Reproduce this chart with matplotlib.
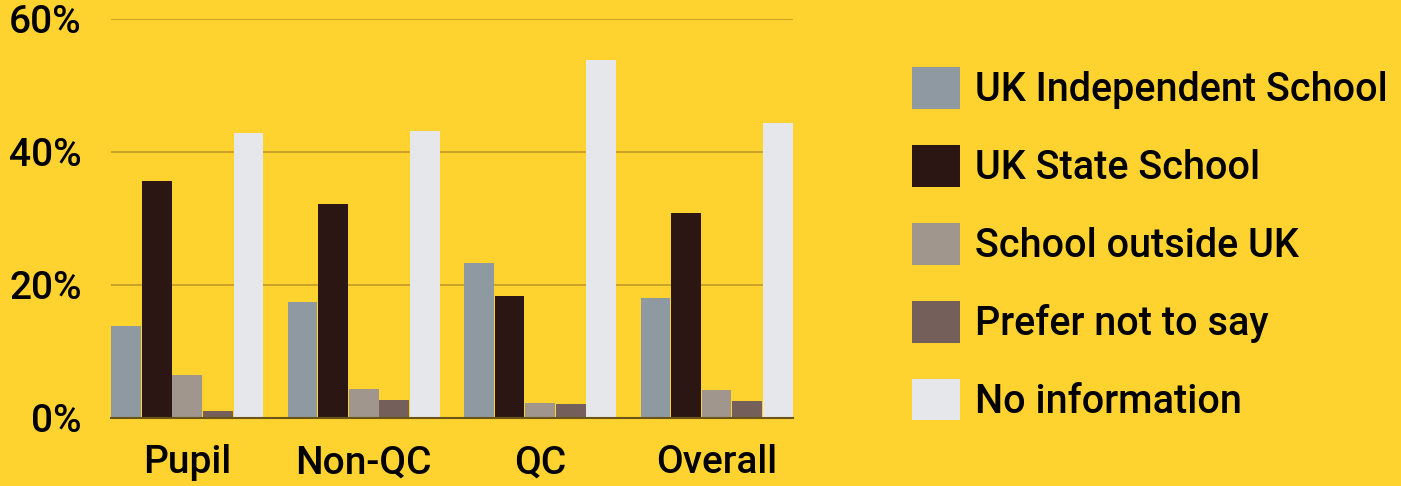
#!/usr/bin/env python3
"""School background by group, grouped bar chart."""

import numpy as np
import matplotlib
matplotlib.use('Agg')
import matplotlib.pyplot as plt
from matplotlib.ticker import FuncFormatter

groups = ['Pupil', 'Non-QC', 'QC', 'Overall']
series = ['UK Independent School', 'UK State School', 'School outside UK',
          'Prefer not to say', 'No information']
uk_independent = [13.8, 17.5, 23.3, 18.1]
uk_state = [35.6, 32.1, 18.4, 30.8]
outside_uk = [6.5, 4.4, 2.2, 4.2]
prefer_not = [1.1, 2.7, 2.1, 2.6]
no_info = [42.8, 43.2, 53.9, 44.3]

colors = ['#8f99a1', '#2c1613', '#a0968e', '#745f5a', '#e6e7ea']
bg = '#fed330'

plt.rcParams['font.family'] = ['Roboto', 'DejaVu Sans']
plt.rcParams['font.weight'] = 500

fig = plt.figure(figsize=(14.01, 4.86), dpi=100, facecolor=bg)
ax = fig.add_axes([0.0792, 0.140, 0.4868, 0.821])
ax.set_facecolor(bg)

x = np.arange(len(groups))
w = 0.173
values = [uk_independent, uk_state, outside_uk, prefer_not, no_info]
for i, (name, vals) in enumerate(zip(series, values)):
    ax.bar(x + (i - 2) * w, vals, width=w * 0.97, color=colors[i],
           label=name, zorder=3)

ax.set_ylim(0, 60)
ax.set_xlim(-2.5 * w, 3 + 2.5 * w)
ax.set_yticks([0, 20, 40, 60])
ax.yaxis.set_major_formatter(FuncFormatter(lambda v, p: f'{v:.0f}%'))
ax.set_xticks(x)
ax.set_xticklabels(groups)
ax.tick_params(axis='both', length=0, labelsize=28, colors='black')
ax.tick_params(axis='y', pad=21)
ax.tick_params(axis='x', pad=19)
ax.grid(axis='y', color='#c09a28', linewidth=1.2, zorder=0)
for s in ['left', 'right', 'top']:
    ax.spines[s].set_visible(False)
ax.spines['bottom'].set_color('#6b5418')
ax.spines['bottom'].set_linewidth(1.5)
ax.spines['bottom'].set_zorder(4)

fig.legend(loc='upper left', bbox_to_anchor=(0.651, 0.862),
           bbox_transform=fig.transFigure, frameon=False, fontsize=28.5,
           handlelength=1.2, handleheight=1.25, handletextpad=0.38,
           labelspacing=0.9, borderpad=0, borderaxespad=0)

fig.savefig('out.png', dpi=100, facecolor=bg)
